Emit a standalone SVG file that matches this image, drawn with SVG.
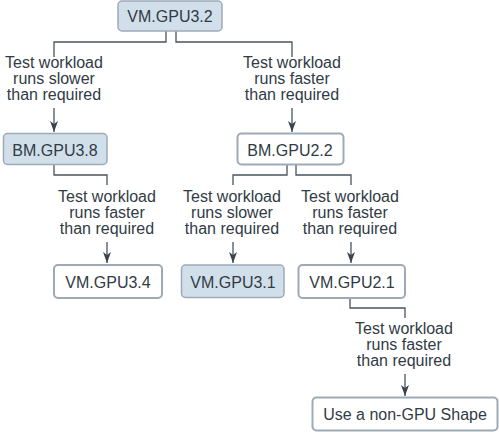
<svg xmlns="http://www.w3.org/2000/svg" width="499" height="432" viewBox="0 0 499 432">
<style>
.blue{fill:#d0dfea;stroke:#9eabb7;stroke-width:1.5}
.white{fill:#ffffff;stroke:#9eabb7;stroke-width:2}
text{font-family:"Liberation Sans",Arial,sans-serif;font-size:16px;fill:#313b45;text-anchor:middle}
.conn{fill:none;stroke:#4a545e;stroke-width:1.3}
</style>
<defs>
<marker id="ah" markerUnits="userSpaceOnUse" markerWidth="12" markerHeight="10" viewBox="0 0 12 10" refX="11" refY="5" orient="auto">
<path d="M0,1 L11,5 L0,9 L3,5 Z" fill="#3a444e"/>
</marker>
</defs>
<g id="connectors" class="conn">
<path d="M166,31 V42 H54 V57"/>
<path d="M176,31 V42 H292 V57"/>
<path d="M54,108 V132" marker-end="url(#ah)"/>
<path d="M292,108 V132" marker-end="url(#ah)"/>
<path d="M54,164 V175 H107 V185"/>
<path d="M107,242 V263" marker-end="url(#ah)"/>
<path d="M287,165 V175 H233 V185"/>
<path d="M296,165 V175 H351 V185"/>
<path d="M233,242 V263" marker-end="url(#ah)"/>
<path d="M351,242 V263" marker-end="url(#ah)"/>
<path d="M350,298 V308 H405 V318"/>
<path d="M405,374 V396" marker-end="url(#ah)"/>
</g>
<g id="labels">
<text x="54" y="68">Test workload</text><text x="54" y="84">runs slower</text><text x="54" y="100">than required</text>
<text x="292" y="68">Test workload</text><text x="292" y="84">runs faster</text><text x="292" y="100">than required</text>
<text x="107" y="202">Test workload</text><text x="107" y="218">runs faster</text><text x="107" y="234">than required</text>
<text x="232" y="202">Test workload</text><text x="232" y="218">runs slower</text><text x="232" y="234">than required</text>
<text x="350" y="202">Test workload</text><text x="350" y="218">runs faster</text><text x="350" y="234">than required</text>
<text x="404" y="334">Test workload</text><text x="404" y="350">runs faster</text><text x="404" y="366">than required</text>
</g>
<g id="n-vmgpu32"><rect class="blue" x="118" y="1" width="104" height="30" rx="4"/><text x="170" y="22">VM.GPU3.2</text></g>
<g id="n-bmgpu38"><rect class="blue" x="3.5" y="133.5" width="103.5" height="31" rx="4"/><text x="55" y="156">BM.GPU3.8</text></g>
<g id="n-bmgpu22"><rect class="white" x="237.5" y="133.5" width="106" height="31" rx="4"/><text x="290" y="156">BM.GPU2.2</text></g>
<g id="n-vmgpu34"><rect class="white" x="54" y="265" width="108" height="33" rx="4"/><text x="108" y="288">VM.GPU3.4</text></g>
<g id="n-vmgpu31"><rect class="blue" x="181.5" y="265" width="102.5" height="32.5" rx="4"/><text x="233" y="288">VM.GPU3.1</text></g>
<g id="n-vmgpu21"><rect class="white" x="298.5" y="265" width="106.5" height="33" rx="4"/><text x="352" y="288">VM.GPU2.1</text></g>
<g id="n-nongpu"><rect class="white" x="312.5" y="397.5" width="185" height="33" rx="4"/><text x="405" y="420">Use a non-GPU Shape</text></g>
</svg>
